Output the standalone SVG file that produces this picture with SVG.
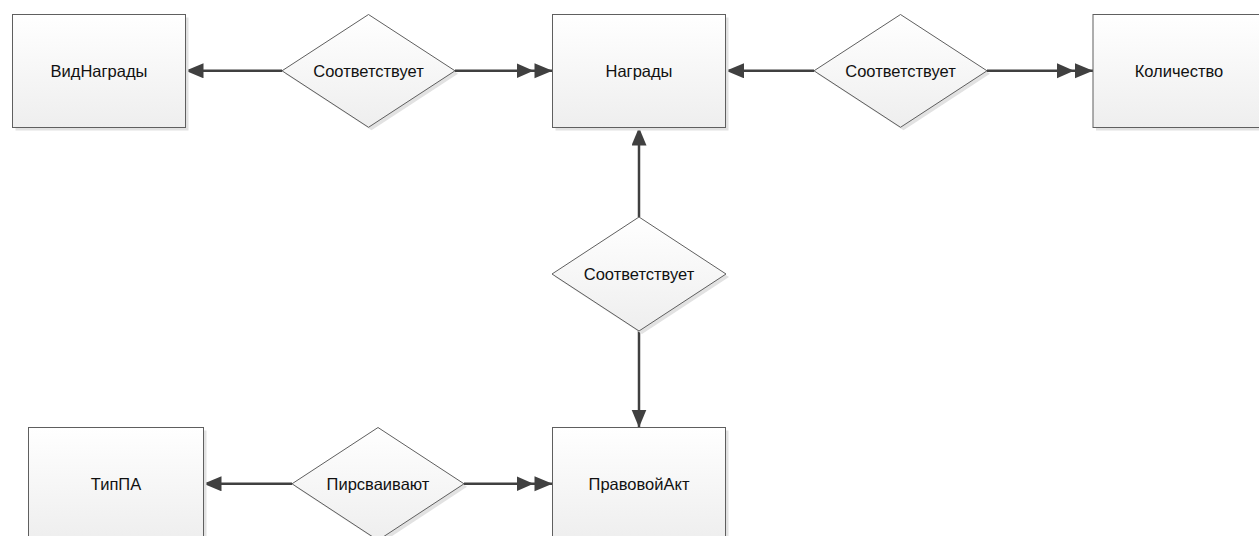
<svg xmlns="http://www.w3.org/2000/svg" width="1259" height="536" viewBox="0 0 1259 536">
  <style>
    .shadow { fill: #e2e2e2; stroke: none; }
    .entity { fill: url(#boxFill); stroke: #5f5f5f; stroke-width: 1; }
    .relation { fill: url(#boxFill); stroke: #5f5f5f; stroke-width: 1; }
    .label { font-family: "Liberation Sans", Arial, sans-serif; font-size: 16.5px; fill: #111; text-anchor: middle; dominant-baseline: central; }
    .link { stroke: #404040; stroke-width: 2.5; fill: none; }
    .one { marker-end: url(#arrowOne); }
    .many { marker-end: url(#arrowMany); }
  </style>
  <defs>
    <linearGradient id="boxFill" x1="0" y1="0" x2="0" y2="1">
      <stop offset="0" stop-color="#ffffff"/>
      <stop offset="1" stop-color="#eeeeee"/>
    </linearGradient>
    <marker id="arrowOne" markerUnits="userSpaceOnUse" markerWidth="20" markerHeight="16" refX="18" refY="7.5" orient="auto">
      <path d="M0,0 L18,7.5 L0,15 z" fill="#404040"/>
    </marker>
    <marker id="arrowMany" markerUnits="userSpaceOnUse" markerWidth="38" markerHeight="16" refX="36" refY="7.5" orient="auto">
      <path d="M0,0 L17,7.5 L0,15 z M18,0 L36,7.5 L18,15 z" fill="#404040"/>
    </marker>
  </defs>

  <!-- relationship lines -->
  <g id="connectors">
    <line class="link one" x1="282" y1="70.8" x2="185.5" y2="70.8"/>
    <line class="link many" x1="455" y1="70.8" x2="552.5" y2="70.8"/>
    <line class="link one" x1="814" y1="70.8" x2="726" y2="70.8"/>
    <line class="link many" x1="987" y1="70.8" x2="1093" y2="70.8"/>
    <line class="link one" x1="639" y1="217" x2="639" y2="127.5"/>
    <line class="link one" x1="639" y1="331" x2="639" y2="427.5"/>
    <line class="link one" x1="292" y1="483.8" x2="203.5" y2="483.8"/>
    <line class="link many" x1="464" y1="483.8" x2="552.5" y2="483.8"/>
  </g>

  <!-- entities -->
  <g id="vid-nagrady">
    <rect class="shadow" x="15.5" y="17.5" width="173" height="113"/>
    <rect class="entity" x="12.5" y="14.5" width="173" height="113"/>
    <text class="label" x="99" y="71">ВидНаграды</text>
  </g>
  <g id="nagrady">
    <rect class="shadow" x="555.5" y="17.5" width="173" height="113"/>
    <rect class="entity" x="552.5" y="14.5" width="173" height="113"/>
    <text class="label" x="639" y="71">Награды</text>
  </g>
  <g id="kolichestvo">
    <rect class="shadow" x="1096" y="17.5" width="173" height="113"/>
    <rect class="entity" x="1093" y="14.5" width="173" height="113"/>
    <text class="label" x="1179" y="71">Количество</text>
  </g>
  <g id="pravovoy-akt">
    <rect class="shadow" x="555.5" y="430.5" width="173" height="113"/>
    <rect class="entity" x="552.5" y="427.5" width="173" height="113"/>
    <text class="label" x="639" y="484">ПравовойАкт</text>
  </g>
  <g id="tip-pa">
    <rect class="shadow" x="31.5" y="430.5" width="175" height="113"/>
    <rect class="entity" x="28.5" y="427.5" width="175" height="113"/>
    <text class="label" x="116" y="484">ТипПА</text>
  </g>

  <!-- relationships -->
  <g id="rel-vid">
    <polygon class="shadow" points="371.5,17.5 458,73.8 371.5,130.3 285,73.8"/>
    <polygon class="relation" points="368.5,14.5 455,70.8 368.5,127.3 282,70.8"/>
    <text class="label" x="368.5" y="71">Соответствует</text>
  </g>
  <g id="rel-kolichestvo">
    <polygon class="shadow" points="903.5,17.5 990,73.8 903.5,130.3 817,73.8"/>
    <polygon class="relation" points="900.5,14.5 987,70.8 900.5,127.3 814,70.8"/>
    <text class="label" x="900.5" y="71">Соответствует</text>
  </g>
  <g id="rel-akt">
    <polygon class="shadow" points="642,220 729,277 642,334 555,277"/>
    <polygon class="relation" points="639,217 726,274 639,331 552,274"/>
    <text class="label" x="639" y="274">Соответствует</text>
  </g>
  <g id="rel-tip">
    <polygon class="shadow" points="381,430.5 467,486.8 381,543.3 295,486.8"/>
    <polygon class="relation" points="378,427.5 464,483.8 378,540.3 292,483.8"/>
    <text class="label" x="378" y="484">Пирсваивают</text>
  </g>
</svg>
